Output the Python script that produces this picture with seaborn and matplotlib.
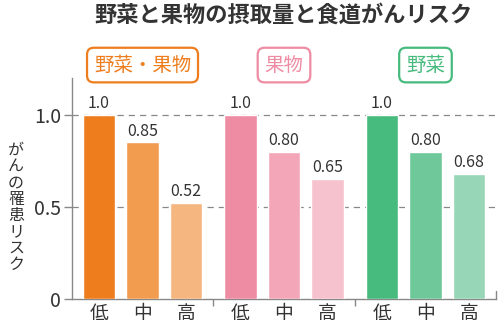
import matplotlib
matplotlib.use("Agg")
import matplotlib.pyplot as plt
import seaborn as sns
import pandas as pd

sns.set_theme(style="white")
plt.rcParams['font.family'] = ['Noto Sans CJK JP', 'DejaVu Sans']

# data
groups = ["野菜・果物", "果物", "野菜"]
levels = ["低", "中", "高"]
values = [1.0, 0.85, 0.52, 1.0, 0.80, 0.65, 1.0, 0.80, 0.68]
value_labels = ["1.0", "0.85", "0.52", "1.0", "0.80", "0.65", "1.0", "0.80", "0.68"]
positions = [0, 1, 2, 3.25, 4.25, 5.25, 6.5, 7.5, 8.5]
bar_colors = ["#EE7D1E", "#F29C50", "#F5B680",
              "#EE8CA3", "#F2A6B8", "#F6C2CE",
              "#47BA7D", "#6FC899", "#97D6B6"]
group_colors = ["#EE7D1E", "#EE8CA3", "#47BA7D"]
yticks = [0, 0.5, 1.0]
ytick_labels = ["0", "0.5", "1.0"]

ids = [f"{g}-{l}" for g in groups for l in levels]
df = pd.DataFrame({"pos": positions, "val": values, "id": ids})

fig = plt.figure(figsize=(5, 3.27), dpi=100)
ax = fig.add_axes([0.144, 0.0856, 0.848, 0.676])

sns.barplot(data=df, x="pos", y="val", hue="id", palette=dict(zip(ids, bar_colors)),
            native_scale=True, dodge=False, legend=False, width=0.74,
            saturation=1, ax=ax, zorder=3)

for cont, lab in zip(ax.containers, value_labels):
    ax.bar_label(cont, labels=[lab], padding=2, fontsize=11.5, color="#333333")

ax.set_xlim(-0.62, 9.12)
ax.set_ylim(0, 1.2)
ax.set_xlabel("")
ax.set_ylabel("")

ax.set_yticks(yticks)
ax.set_yticklabels(ytick_labels, fontsize=14, color="#333333")
ax.tick_params(axis="y", direction="out", length=6, width=1, color="#888888", pad=2, left=True)

ax.set_xticks(positions)
ax.set_xticklabels(levels * 3, fontsize=13.5, color="#333333")
ax.tick_params(axis="x", which="major", length=0, pad=3)
ax.set_xticks([2.625, 5.875], minor=True)
ax.tick_params(axis="x", which="minor", direction="out", length=5, width=1,
               color="#888888", bottom=True)

for y in [0.5, 1.0]:
    ax.axhline(y, color="#888888", lw=0.9, ls=(0, (5, 4)), zorder=1)

for s in ["top", "right"]:
    ax.spines[s].set_visible(False)
for s in ["left", "bottom"]:
    ax.spines[s].set_color("#888888")
    ax.spines[s].set_linewidth(1)
ax.plot([1, 1], [0, 0.035], transform=ax.transAxes, color="#888888", lw=1, clip_on=False)

# group label boxes
for i, (g, c) in enumerate(zip(groups, group_colors)):
    cx = (positions[3 * i] + positions[3 * i + 2]) / 2
    ax.text(cx, 1.27, g, ha="center", va="center", fontsize=14, color=c, clip_on=False,
            bbox=dict(boxstyle="round,pad=0.35,rounding_size=0.35", fc="white", ec=c, lw=1.6))

fig.text(0.566, 0.954, "野菜と果物の摂取量と食道がんリスク", ha="center", va="center",
         fontsize=16, fontweight="bold", color="#333333")

fig.text(0.032, 0.365, "\n".join("がんの罹患リスク"), ha="center", va="center",
         fontsize=11.5, color="#333333", linespacing=0.95)

fig.savefig("out.png", dpi=100)
